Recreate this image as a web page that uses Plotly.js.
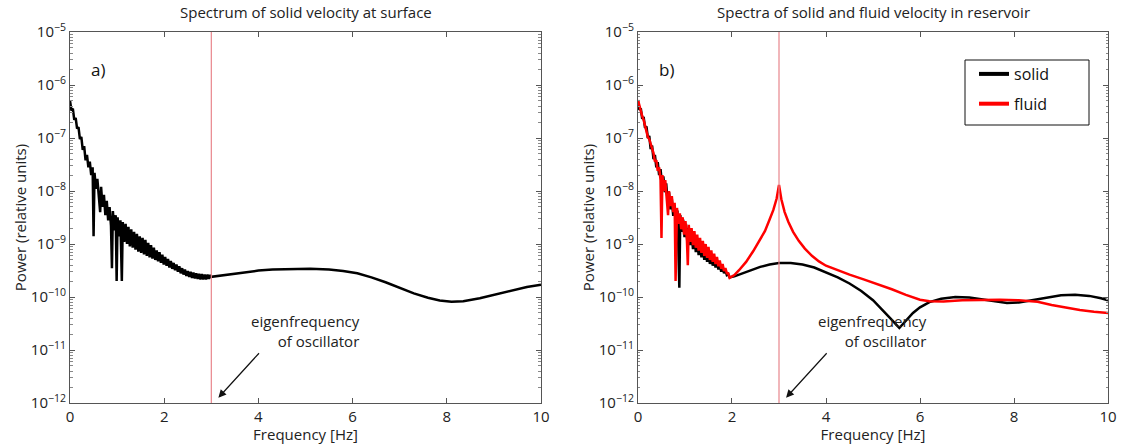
<!DOCTYPE html>
<html>
<head>
<meta charset="utf-8">
<script src="https://cdn.plot.ly/plotly-3.0.1.min.js"></script>
<style>html,body{margin:0;padding:0;background:#fff;}#chart{width:1124px;height:444px;}</style>
</head>
<body>
<div id="chart"></div>
<script>
// ---------- Panel a) solid velocity at surface ----------
var freqSurface = [0.00,0.03,0.06,0.09,0.12,0.15,0.18,0.21,0.24,0.27,0.30,0.33,0.36,0.39,0.42,0.45,0.48,0.50,0.52,0.55,0.58,0.61,0.64,0.66,0.69,0.72,0.75,0.78,0.81,0.84,0.87,0.89,0.91,0.94,0.97,0.99,1.01,1.04,1.07,1.10,1.12,1.15,1.18,1.21,1.24,1.27,1.30,1.33,1.36,1.39,1.42,1.45,1.48,1.51,1.54,1.57,1.60,1.63,1.66,1.69,1.72,1.75,1.78,1.81,1.84,1.87,1.90,1.93,1.96,1.99,2.02,2.05,2.08,2.11,2.14,2.17,2.20,2.23,2.26,2.29,2.32,2.35,2.38,2.41,2.44,2.47,2.50,2.53,2.56,2.59,2.62,2.65,2.68,2.71,2.74,2.77,2.80,2.83,2.86,2.89,2.92,2.95,2.98,3.00,3.15,3.3,3.5,3.75,4.0,4.3,4.7,5.1,5.5,5.8,6.1,6.4,6.7,7.0,7.3,7.6,7.85,8.1,8.35,8.7,9.0,9.35,9.7,10.0];
var solidSurface = [5.0e-7,3.3e-7,3.6e-7,2.2e-7,2.4e-7,1.5e-7,1.6e-7,9.5e-8,1.05e-7,6.0e-8,7.0e-8,3.8e-8,4.8e-8,2.8e-8,3.6e-8,2.0e-8,2.8e-8,1.4e-9,2.2e-8,1.1e-8,1.7e-8,7.5e-9,4.0e-9,1.2e-8,5.0e-9,8.5e-9,3.5e-9,6.5e-9,2.8e-9,5.0e-9,2.2e-9,3.5e-10,4.2e-9,1.8e-9,3.5e-9,2.0e-10,3.2e-9,1.4e-9,2.8e-9,2.0e-10,2.6e-9,1.1e-9,2.4e-9,1.0e-9,2.1e-9,9.0e-10,1.9e-9,8.5e-10,1.7e-9,7.8e-10,1.55e-9,7.2e-10,1.4e-9,6.8e-10,1.3e-9,6.4e-10,1.2e-9,6.0e-10,1.05e-9,5.6e-10,9.5e-10,5.3e-10,8.5e-10,5.0e-10,7.6e-10,4.7e-10,7.0e-10,4.4e-10,6.3e-10,4.1e-10,5.7e-10,3.9e-10,5.2e-10,3.6e-10,4.8e-10,3.4e-10,4.4e-10,3.2e-10,4.1e-10,3.0e-10,3.8e-10,2.8e-10,3.5e-10,2.65e-10,3.3e-10,2.5e-10,3.1e-10,2.4e-10,3.0e-10,2.3e-10,2.9e-10,2.25e-10,2.8e-10,2.2e-10,2.75e-10,2.15e-10,2.7e-10,2.15e-10,2.65e-10,2.15e-10,2.65e-10,2.2e-10,2.6e-10,2.4e-10,2.5e-10,2.6e-10,2.8e-10,3.0e-10,3.15e-10,3.3e-10,3.4e-10,3.4e-10,3.3e-10,3.1e-10,2.8e-10,2.35e-10,1.9e-10,1.5e-10,1.17e-10,9.7e-11,8.6e-11,8.1e-11,8.3e-11,9.5e-11,1.1e-10,1.35e-10,1.55e-10,1.7e-10];

// ---------- Panel b) solid and fluid velocity in reservoir ----------
var freqSolidRes = [0.00,0.03,0.06,0.09,0.12,0.15,0.18,0.21,0.24,0.27,0.30,0.33,0.36,0.39,0.42,0.45,0.48,0.51,0.54,0.57,0.60,0.63,0.66,0.69,0.72,0.75,0.78,0.81,0.84,0.88,0.90,0.93,0.96,0.99,1.02,1.05,1.08,1.11,1.14,1.17,1.20,1.23,1.26,1.29,1.32,1.35,1.38,1.41,1.44,1.47,1.50,1.53,1.56,1.59,1.62,1.65,1.68,1.71,1.74,1.77,1.80,1.83,1.86,1.89,1.92,1.95,2.05,2.2,2.4,2.6,2.8,3.0,3.25,3.5,3.75,4.0,4.25,4.5,4.75,5.0,5.2,5.4,5.56,5.7,5.85,6.0,6.2,6.45,6.75,7.05,7.35,7.6,7.85,8.1,8.4,8.7,9.0,9.3,9.6,9.85,10.0];
var solidRes = [5.0e-7,3.4e-7,3.6e-7,2.3e-7,2.5e-7,1.55e-7,1.65e-7,1.0e-7,1.1e-7,6.2e-8,7.2e-8,4.0e-8,4.8e-8,2.8e-8,3.5e-8,2.0e-8,2.6e-8,1.4e-8,1.9e-8,9.5e-9,1.4e-8,6.5e-9,9.5e-9,4.5e-9,7.0e-9,3.4e-9,5.5e-9,2.6e-9,4.3e-9,1.5e-10,3.5e-9,1.7e-9,2.9e-9,1.35e-9,2.4e-9,1.1e-9,2.0e-9,9.5e-10,1.7e-9,8.0e-10,1.45e-9,7.0e-10,1.25e-9,6.2e-10,1.1e-9,5.6e-10,9.5e-10,5.0e-10,8.3e-10,4.6e-10,7.3e-10,4.2e-10,6.4e-10,3.9e-10,5.6e-10,3.6e-10,4.9e-10,3.3e-10,4.3e-10,3.0e-10,3.7e-10,2.8e-10,3.2e-10,2.6e-10,2.7e-10,2.35e-10,2.45e-10,2.75e-10,3.2e-10,3.7e-10,4.1e-10,4.4e-10,4.4e-10,4.1e-10,3.6e-10,2.95e-10,2.35e-10,1.8e-10,1.3e-10,8.7e-11,5.8e-11,3.7e-11,2.6e-11,3.5e-11,5.0e-11,6.4e-11,8.0e-11,9.3e-11,1.0e-10,9.8e-11,9.0e-11,8.2e-11,7.7e-11,7.9e-11,8.8e-11,1.0e-10,1.08e-10,1.1e-10,1.05e-10,9.5e-11,8.7e-11];

var freqFluidRes = [0.00,0.03,0.06,0.09,0.12,0.15,0.18,0.21,0.24,0.27,0.30,0.33,0.36,0.39,0.42,0.45,0.48,0.50,0.52,0.55,0.58,0.61,0.64,0.66,0.69,0.72,0.75,0.78,0.80,0.83,0.86,0.89,0.92,0.95,0.98,1.01,1.04,1.06,1.08,1.11,1.14,1.17,1.20,1.23,1.26,1.29,1.32,1.35,1.38,1.41,1.44,1.47,1.50,1.53,1.56,1.59,1.62,1.65,1.68,1.71,1.74,1.77,1.80,1.83,1.86,1.89,1.92,1.95,2.05,2.15,2.3,2.45,2.6,2.7,2.8,2.88,2.95,3.0,3.05,3.12,3.2,3.3,3.42,3.55,3.7,3.85,4.0,4.25,4.5,4.8,5.1,5.4,5.7,6.0,6.2,6.5,6.9,7.3,7.7,8.1,8.5,8.8,9.1,9.4,9.7,10.0];
var fluidRes = [5.2e-7,4.0e-7,3.3e-7,2.6e-7,2.2e-7,1.7e-7,1.45e-7,1.05e-7,9.5e-8,7.5e-8,5.8e-8,5.2e-8,3.6e-8,3.8e-8,2.4e-8,2.8e-8,1.6e-8,1.3e-9,2.0e-8,1.0e-8,1.6e-8,7.0e-9,3.5e-9,1.0e-8,5.2e-9,8.0e-9,4.0e-9,6.0e-9,2.0e-10,4.8e-9,2.4e-9,3.8e-9,1.9e-9,3.2e-9,1.5e-9,2.7e-9,1.25e-9,4.0e-10,2.3e-9,1.1e-9,2.0e-9,9.5e-10,1.75e-9,8.5e-10,1.5e-9,7.5e-10,1.3e-9,6.8e-10,1.15e-9,6.0e-10,1.0e-9,5.5e-10,8.8e-10,5.0e-10,7.6e-10,4.6e-10,6.6e-10,4.2e-10,5.7e-10,3.8e-10,4.9e-10,3.4e-10,4.2e-10,3.1e-10,3.5e-10,2.8e-10,2.8e-10,2.3e-10,2.6e-10,3.2e-10,4.6e-10,7.3e-10,1.2e-9,1.75e-9,2.9e-9,4.4e-9,7.2e-9,1.3e-8,7.0e-9,4.0e-9,2.6e-9,1.7e-9,1.15e-9,8.2e-10,6.0e-10,4.7e-10,3.9e-10,3.2e-10,2.65e-10,2.15e-10,1.75e-10,1.4e-10,1.1e-10,8.9e-11,8.3e-11,8.2e-11,8.7e-11,8.9e-11,8.9e-11,8.7e-11,8.1e-11,7.1e-11,6.3e-11,5.7e-11,5.3e-11,5.0e-11];

// ---------- ticks / labels ----------
var xTickVals = [0,2,4,6,8,10];
var yTickVals = [1e-12,1e-11,1e-10,1e-9,1e-8,1e-7,1e-6,1e-5];
var yTickText = ['10<sup>\u221212</sup>','10<sup>\u221211</sup>','10<sup>\u221210</sup>','10<sup>\u22129</sup>','10<sup>\u22128</sup>','10<sup>\u22127</sup>','10<sup>\u22126</sup>','10<sup>\u22125</sup>'];
var eigenFreq = 3;
var seriesNames = ['solid','fluid'];

var AXC = '#555';
var FONT = 'Open Sans, sans-serif';
function xAx(dom, anchor){
  return {domain:dom, anchor:anchor, range:[0,10], tickmode:'array', tickvals:xTickVals,
    ticks:'inside', ticklen:5, tickcolor:AXC, mirror:'ticks', showline:true, linecolor:AXC, linewidth:1,
    showgrid:false, zeroline:false, automargin:false,
    tickfont:{size:15,color:'#222'},
    title:{text:'Frequency [Hz]', font:{size:15,color:'#222'}, standoff:0}};
}
function yAx(anchor){
  return {domain:[0.0923,0.9279], anchor:anchor, type:'log', range:[-12,-5], tickmode:'array',
    tickvals:yTickVals, ticktext:yTickText,
    ticks:'inside', ticklen:5, tickcolor:AXC, mirror:'ticks', showline:true, linecolor:AXC, linewidth:1,
    showgrid:false, zeroline:false, automargin:false,
    minor:{ticks:'inside', ticklen:2.5, tickcolor:'#888', dtick:'D1', showgrid:false},
    tickfont:{size:15,color:'#222'},
    title:{text:'Power (relative units)', font:{size:15,color:'#222'}, standoff:0}};
}

var traces = [
  {x:freqSurface, y:solidSurface, xaxis:'x', yaxis:'y', mode:'lines', line:{color:'#000', width:2.5}, showlegend:false, name:'solid'},
  {x:freqSolidRes, y:solidRes, xaxis:'x2', yaxis:'y2', mode:'lines', line:{color:'#000', width:2.5}, showlegend:false, name:'solid'},
  {x:freqFluidRes, y:fluidRes, xaxis:'x2', yaxis:'y2', mode:'lines', line:{color:'#ff0000', width:2.5}, showlegend:false, name:'fluid'},
  {x:[null], y:[null], xaxis:'x2', yaxis:'y2', mode:'lines', line:{color:'#000', width:4}, name:seriesNames[0], legendgroup:'g1'},
  {x:[null], y:[null], xaxis:'x2', yaxis:'y2', mode:'lines', line:{color:'#ff0000', width:4}, name:seriesNames[1], legendgroup:'g2'}
];

function vline(xr, yr){
  return {type:'line', xref:xr, yref:yr+' domain', x0:eigenFreq, x1:eigenFreq, y0:0, y1:1,
    line:{color:'#e8858c', width:1.2}, layer:'above'};
}
// legend frame (wider than Plotly's auto-sized legend box)
var legendFrame = {type:'rect', xref:'paper', yref:'paper', x0:965/1124, x1:1089/1124, y0:1-125/444, y1:1-60/444,
  line:{color:'#111', width:1}, fillcolor:'rgba(0,0,0,0)', layer:'above'};

var annFont = {size:15, color:'#222'};
var annotations = [
  {xref:'x domain', yref:'paper', x:0.5, y:0.973, text:'Spectrum of solid velocity at surface', showarrow:false, font:annFont, yanchor:'middle'},
  {xref:'x2 domain', yref:'paper', x:0.5, y:0.973, text:'Spectra of solid and fluid velocity in reservoir', showarrow:false, font:annFont, yanchor:'middle'},
  {xref:'x domain', yref:'y domain', x:0.04, y:0.935, text:'a)', showarrow:false, font:{size:17,color:'#111'}},
  {xref:'x2 domain', yref:'y2 domain', x:0.04, y:0.935, text:'b)', showarrow:false, font:{size:17,color:'#111'}},
  {xref:'x', yref:'y', x:6.2, y:-10.22, text:'eigenfrequency<br>of oscillator', align:'right', xanchor:'right', yanchor:'top', showarrow:false, font:annFont},
  {xref:'x2', yref:'y2', x:6.2, y:-10.22, text:'eigenfrequency<br>of oscillator', align:'right', xanchor:'right', yanchor:'top', showarrow:false, font:annFont},
  {xref:'x', yref:'y', x:3.15, y:-11.9, ax:42, ay:-46, text:'', showarrow:true, arrowhead:2, arrowsize:1.3, arrowwidth:1.2, arrowcolor:'#111'},
  {xref:'x2', yref:'y2', x:3.15, y:-11.9, ax:42, ay:-46, text:'', showarrow:true, arrowhead:2, arrowsize:1.3, arrowwidth:1.2, arrowcolor:'#111'}
];

var layout = {
  width:1124, height:444,
  margin:{l:0, r:0, t:0, b:0},
  paper_bgcolor:'#fff', plot_bgcolor:'#fff',
  font:{family:FONT, size:15, color:'#222'},
  xaxis: xAx([0.0623,0.4813],'y'),
  yaxis: yAx('x'),
  xaxis2: xAx([0.5676,0.9858],'y2'),
  yaxis2: yAx('x2'),
  showlegend:true,
  legend:{x:974/1124, y:1-57/444, xanchor:'left', yanchor:'top', borderwidth:0,
    bgcolor:'rgba(0,0,0,0)', font:{size:16,color:'#111'}, tracegroupgap:6},
  shapes:[vline('x','y'), vline('x2','y2'), legendFrame],
  annotations:annotations
};

Plotly.newPlot('chart', traces, layout, {displayModeBar:false, staticPlot:true});
</script>
</body>
</html>
